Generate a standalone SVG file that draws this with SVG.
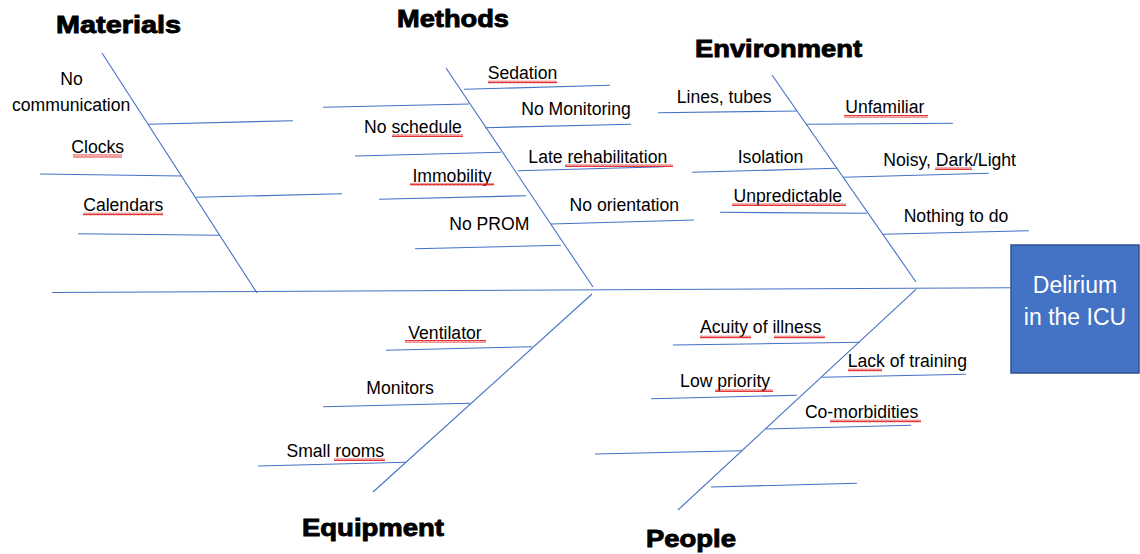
<svg xmlns="http://www.w3.org/2000/svg" width="1140" height="554" viewBox="0 0 1140 554">
<defs>
<style>
.ln{stroke:#4472C4;stroke-width:1.1;fill:none}
.lb{font-family:"Liberation Sans",Arial,sans-serif;font-size:17.6px;fill:#000;text-anchor:middle}
.tt{font-family:"Liberation Sans",Arial,sans-serif;font-size:24px;font-weight:bold;fill:#000;stroke:#000;stroke-width:0.9}
.bx{font-family:"Liberation Sans",Arial,sans-serif;font-size:23px;fill:#fff;text-anchor:middle}
.sq{fill:url(#squig)}
</style>
<pattern id="squig" patternUnits="userSpaceOnUse" width="4" height="3">
<path d="M0,2.6 L1,0.4 L2,2.6 L3,0.4 L4,2.6" fill="none" stroke="#e02020" stroke-width="0.9"/>
</pattern>
</defs>
<rect width="1140" height="554" fill="#fff"/>

<g id="connectors">
<line class="ln" x1="52" y1="292.5" x2="1010" y2="287.7"/>
<!-- Materials -->
<line class="ln" x1="102" y1="53" x2="257" y2="293"/>
<line class="ln" x1="148" y1="124.3" x2="293" y2="120.7"/>
<line class="ln" x1="40" y1="174" x2="182" y2="176"/>
<line class="ln" x1="196" y1="197.3" x2="342" y2="193.7"/>
<line class="ln" x1="78" y1="233.7" x2="220" y2="235.3"/>
<!-- Methods -->
<line class="ln" x1="446" y1="68" x2="593" y2="287"/>
<line class="ln" x1="464" y1="89.3" x2="610" y2="85.3"/>
<line class="ln" x1="323" y1="107.3" x2="469" y2="104"/>
<line class="ln" x1="485" y1="127.7" x2="631" y2="124.3"/>
<line class="ln" x1="355" y1="156" x2="501" y2="152.3"/>
<line class="ln" x1="518" y1="170.7" x2="664" y2="166.7"/>
<line class="ln" x1="379" y1="199.3" x2="526" y2="195.7"/>
<line class="ln" x1="551" y1="224" x2="694" y2="220"/>
<line class="ln" x1="415" y1="248.7" x2="561" y2="245.3"/>
<!-- Environment -->
<line class="ln" x1="772" y1="75" x2="916" y2="282"/>
<line class="ln" x1="658" y1="112.7" x2="797" y2="111"/>
<line class="ln" x1="807" y1="124.3" x2="953" y2="123.3"/>
<line class="ln" x1="692" y1="172.3" x2="837" y2="168.3"/>
<line class="ln" x1="843" y1="177.3" x2="989" y2="173.3"/>
<line class="ln" x1="720" y1="212.3" x2="867" y2="213.3"/>
<line class="ln" x1="883" y1="234.3" x2="1029" y2="230.7"/>
<!-- Equipment -->
<line class="ln" x1="592" y1="294" x2="373" y2="492"/>
<line class="ln" x1="386" y1="350.3" x2="532" y2="346.7"/>
<line class="ln" x1="323" y1="406.7" x2="470" y2="403.3"/>
<line class="ln" x1="258" y1="466" x2="406" y2="462.3"/>
<!-- People -->
<line class="ln" x1="916" y1="289.3" x2="678" y2="510"/>
<line class="ln" x1="673" y1="345" x2="860" y2="342.3"/>
<line class="ln" x1="822" y1="377.3" x2="966" y2="374.3"/>
<line class="ln" x1="651" y1="398.7" x2="797" y2="395.3"/>
<line class="ln" x1="766" y1="429" x2="911" y2="425.3"/>
<line class="ln" x1="595" y1="454" x2="742" y2="450.7"/>
<line class="ln" x1="711" y1="487" x2="857" y2="483.3"/>
</g>

<g id="materials">
<text class="tt" x="56" y="33" textLength="125" lengthAdjust="spacingAndGlyphs">Materials</text>
<text class="lb" x="71.5" y="85">No</text>
<text class="lb" x="71.2" y="110.7">communication</text>
<text class="lb" x="97.7" y="153">Clocks</text>
<rect class="sq" x="73" y="154.5" width="49" height="3"/>
<text class="lb" x="123.3" y="211">Calendars</text>
<rect class="sq" x="83" y="212.5" width="80" height="3"/>
</g>

<g id="methods">
<text class="tt" x="397" y="27" textLength="112" lengthAdjust="spacingAndGlyphs">Methods</text>
<text class="lb" x="522.5" y="79">Sedation</text>
<rect class="sq" x="488" y="80.5" width="69" height="3"/>
<text class="lb" x="576" y="115">No Monitoring</text>
<text class="lb" x="413" y="132.7">No schedule</text>
<rect class="sq" x="392" y="134" width="71" height="3"/>
<text class="lb" x="597.8" y="162.7">Late rehabilitation</text>
<rect class="sq" x="565" y="164" width="108" height="3"/>
<text class="lb" x="452" y="181.7">Immobility</text>
<rect class="sq" x="410" y="183" width="84" height="3"/>
<text class="lb" x="624.3" y="210.7">No orientation</text>
<text class="lb" x="489.3" y="230">No PROM</text>
</g>

<g id="environment">
<text class="tt" x="695" y="57" textLength="167" lengthAdjust="spacingAndGlyphs">Environment</text>
<text class="lb" x="724.2" y="102.7">Lines, tubes</text>
<text class="lb" x="884.8" y="113.3">Unfamiliar</text>
<rect class="sq" x="844" y="115" width="84" height="3"/>
<text class="lb" x="770.5" y="162.7">Isolation</text>
<text class="lb" x="949.7" y="165.7">Noisy, Dark/Light</text>
<rect class="sq" x="935" y="167" width="37" height="3"/>
<text class="lb" x="787.8" y="201.7">Unpredictable</text>
<rect class="sq" x="732" y="203" width="114" height="3"/>
<text class="lb" x="956" y="221.7">Nothing to do</text>
</g>

<g id="equipment">
<text class="tt" x="302" y="536" textLength="142" lengthAdjust="spacingAndGlyphs">Equipment</text>
<text class="lb" x="445" y="339">Ventilator</text>
<rect class="sq" x="405" y="340" width="81" height="3"/>
<text class="lb" x="400" y="394.3">Monitors</text>
<text class="lb" x="335.3" y="456.7">Small rooms</text>
<rect class="sq" x="334" y="458" width="51" height="3"/>
</g>

<g id="people">
<text class="tt" x="646" y="547" textLength="90" lengthAdjust="spacingAndGlyphs">People</text>
<text class="lb" x="760.7" y="333.3">Acuity of illness</text>
<rect class="sq" x="700" y="335.5" width="51" height="3"/>
<rect class="sq" x="774" y="335.5" width="51" height="3"/>
<text class="lb" x="907.3" y="367.3">Lack of training</text>
<rect class="sq" x="848" y="368.5" width="34" height="3"/>
<text class="lb" x="725.1" y="387.3">Low priority</text>
<rect class="sq" x="715" y="389" width="58" height="3"/>
<text class="lb" x="861.6" y="417.7">Co-morbidities</text>
<rect class="sq" x="830" y="419.5" width="91" height="3"/>
</g>

<g id="effect">
<rect x="1011" y="245" width="128" height="128" fill="#4472C4" stroke="#2F528F" stroke-width="1.5"/>
<text class="bx" x="1075" y="292.7">Delirium</text>
<text class="bx" x="1075" y="325">in the ICU</text>
</g>
</svg>
